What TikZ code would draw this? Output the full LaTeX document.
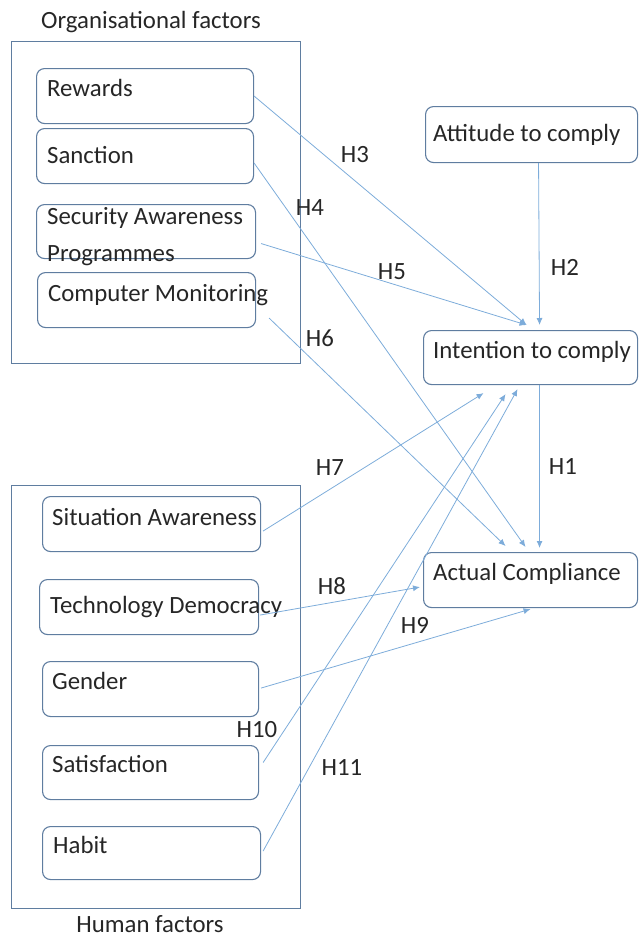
\documentclass[tikz,border=0pt]{standalone}
\usepackage{fontspec}
\setmainfont{Carlito}
\usetikzlibrary{arrows.meta}
\definecolor{boxc}{RGB}{95,125,160}
\definecolor{linec}{RGB}{125,172,218}
\begin{document}
\begin{tikzpicture}[x=1pt,y=-1pt,
  font=\fontsize{24.8}{29}\selectfont,
  grp/.style={draw=boxc,line width=1.3pt,inner sep=0pt,anchor=north west},
  bx/.style={draw=boxc,line width=1.1pt,rounded corners=8pt,inner sep=0pt,anchor=north west},
  txt/.style={anchor=base west,inner sep=0pt,text=black!85},
  lbl/.style={inner sep=0pt,text=black!85},
  arr/.style={draw=linec,line width=0.8pt,-{Latex[length=7pt,width=6pt]}}]
\useasboundingbox (0,0) rectangle (638,938);
% group boxes
\node[grp,minimum width=289pt,minimum height=322pt] (org) at (11,41) {};
\node[grp,minimum width=289pt,minimum height=423pt] (hum) at (11,485) {};
\node[lbl] (orgt) at (151,22) {Organisational factors};
\node[anchor=base,inner sep=0pt,text=black!85] (humt) at (150,932) {Human factors};
% left boxes
\node[bx,minimum width=217pt,minimum height=55pt] (rew) at (36,68) {};
\node[bx,minimum width=217pt,minimum height=55pt] (san) at (36,128) {};
\node[bx,minimum width=219pt,minimum height=54pt] (sap) at (36,204) {};
\node[bx,minimum width=218pt,minimum height=55pt] (cm) at (37,272) {};
\node[bx,minimum width=218pt,minimum height=55pt] (sa) at (42,496) {};
\node[bx,minimum width=219pt,minimum height=55pt] (td) at (39,579) {};
\node[bx,minimum width=216pt,minimum height=55pt] (gen) at (42,661) {};
\node[bx,minimum width=216pt,minimum height=54pt] (sat) at (42,745) {};
\node[bx,minimum width=218pt,minimum height=53pt] (hab) at (42,826) {};
% right boxes
\node[bx,minimum width=212pt,minimum height=56pt] (att) at (425,106) {};
\node[bx,minimum width=214pt,minimum height=54pt] (int) at (423,330) {};
\node[bx,minimum width=214pt,minimum height=55pt] (act) at (423,552) {};
% texts
\node[txt] (rewt) at (47,96) {Rewards};
\node[txt] (sant) at (47,163) {Sanction};
\node[txt] (sapt) at (47,224) {Security Awareness};
\node[txt] (sapt2) at (47,261) {Programmes};
\node[txt] (cmt) at (48,301) {Computer Monitoring};
\node[txt] (sat1) at (52,525) {Situation Awareness};
\node[txt] (tdt) at (50,613) {Technology Democracy};
\node[txt] (gent) at (52,689) {Gender};
\node[txt] (satt) at (52,772) {Satisfaction};
\node[txt] (habt) at (53,853) {Habit};
\node[txt] (attt) at (433,141) {Attitude to comply};
\node[txt] (intt) at (433,358) {Intention to comply};
\node[txt] (actt) at (433,580) {Actual Compliance};
% connectors
\draw[arr] (rew.east) -- ([xshift=-4pt,yshift=5pt]int.north);
\draw[arr] ([yshift=-7pt]san.east) -- ([xshift=-5pt,yshift=5pt]act.north);
\draw[arr] ([xshift=5pt,yshift=-12pt]sap.east) -- ([xshift=-4pt,yshift=5pt]int.north);
\draw[arr] ([xshift=13pt,yshift=-18pt]cm.east) -- ([xshift=-25pt,yshift=6pt]act.north);
\draw[arr] ([xshift=7pt]att.south) -- ([xshift=9pt,yshift=5pt]int.north);
\draw[arr] ([xshift=9pt]int.south) -- ([xshift=9pt,yshift=4pt]act.north);
\draw[arr] ([xshift=2pt,yshift=-7pt]sa.east) -- ([xshift=-47pt,yshift=-8pt]int.south);
\draw[arr] ([xshift=1pt,yshift=-8pt]td.east) -- ([xshift=-3pt,yshift=-7pt]act.west);
\draw[arr] ([xshift=2pt,yshift=1pt]gen.east) -- ([yshift=-1pt]act.south);
\draw[arr] ([xshift=4pt,yshift=10pt]sat.east) -- ([xshift=-25pt,yshift=-9pt]int.south);
\draw[arr] ([xshift=2pt,yshift=2pt]hab.east) -- ([xshift=-13pt,yshift=-4pt]int.south);
% labels
\node[lbl] (h1) at (563,467) {H1};
\node[lbl] (h2) at (565,267) {H2};
\node[lbl] (h3) at (355,155) {H3};
\node[lbl] (h4) at (310,208) {H4};
\node[lbl] (h5) at (392,272) {H5};
\node[lbl] (h6) at (320,338) {H6};
\node[lbl] (h7) at (330,468) {H7};
\node[lbl] (h8) at (332,586) {H8};
\node[lbl] (h9) at (415,625) {H9};
\node[lbl] (h10) at (257,730) {H10};
\node[lbl] (h11) at (342,768) {H11};
\end{tikzpicture}
\end{document}
